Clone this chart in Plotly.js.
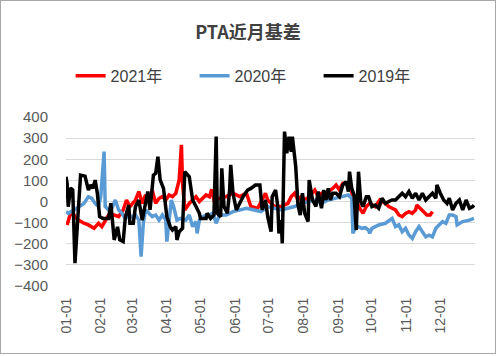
<!DOCTYPE html>
<html>
<head>
<meta charset="utf-8">
<script src="https://cdn.plot.ly/plotly-3.0.1.min.js"></script>
<style>
html,body{margin:0;padding:0;background:#fff;}
#chart{width:494px;height:352px;border:1px solid #a6a6a6;}
</style>
</head>
<body>
<div id="chart"></div>
<script>
// ---- data ----
var seriesNames = ["2021年", "2020年", "2019年"];
var seriesColors = ["#ff0000", "#5b9bd5", "#000000"];

var dates2021 = ["01-02","01-05","01-08","01-12","01-17","01-21","01-26","01-30","02-02","02-05","02-08","02-13","02-17","02-21","02-24","02-27","03-04","03-07","03-10","03-13","03-16","03-19","03-22","03-25","03-28","03-31","04-03","04-06","04-09","04-12","04-14","04-15","04-17","04-21","04-24","04-27","04-30","05-03","05-06","05-09","05-11","05-13","05-18","05-24","05-30","06-05","06-11","06-15","06-21","06-27","06-28","06-30","07-06","07-12","07-18","07-21","07-24","07-27","07-30","08-03","08-08","08-11","08-14","08-17","08-20","08-23","08-27","08-30","09-02","09-05","09-08","09-11","09-14","09-17","09-20","09-23","09-26","09-29","10-04","10-08","10-13","10-16","10-19","10-22","10-25","10-28","10-31","11-03","11-06","11-09","11-10","11-13","11-16","11-19","11-22","11-24"];
var vals2021 = [-111,-56,-64,-88,-103,-111,-127,-103,-119,-88,-64,-64,-72,-40,7,-24,7,47,-9,31,7,54,-9,15,23,7,31,23,39,102,268,86,-40,-9,7,23,0,15,31,23,58,7,15,23,39,23,39,-24,-32,23,39,7,-24,-24,-9,23,39,7,23,7,39,54,23,39,31,47,62,78,54,86,86,78,23,7,-32,-56,-24,-9,-24,7,-9,-24,-32,-40,-64,-72,-56,-48,-56,-40,-17,-32,-48,-64,-64,-48];

var dates2020 = ["01-01","01-03","01-08","01-12","01-17","01-21","01-24","01-27","01-30","02-01","02-04","02-05","02-08","02-11","02-14","02-17","02-20","02-23","02-26","03-01","03-04","03-07","03-09","03-11","03-13","03-16","03-19","03-22","03-25","03-28","03-31","04-01","04-03","04-05","04-07","04-10","04-13","04-18","04-21","04-24","04-27","04-28","04-30","05-03","05-06","05-09","05-12","05-15","05-18","05-24","05-30","06-05","06-11","06-18","06-24","06-30","07-06","07-12","07-18","07-24","07-30","08-05","08-11","08-17","08-23","08-29","09-04","09-10","09-13","09-14","09-16","09-19","09-22","09-25","09-28","09-29","10-01","10-07","10-13","10-19","10-22","10-25","10-28","10-31","11-03","11-06","11-09","11-12","11-15","11-18","11-21","11-24","11-27","11-30","12-03","12-06","12-09","12-12","12-15","12-16","12-21","12-27","12-31"];
var vals2020 = [-48,-56,-40,-24,-9,23,15,-9,-24,23,236,-24,-40,-32,7,-40,-56,-80,-64,-72,-64,-88,-261,-103,-40,-56,-72,-64,-88,-64,-88,-190,-103,7,-24,-88,-80,-88,-64,-119,-95,-151,-88,-72,-64,-64,-56,-103,-64,-64,-48,-40,-32,-40,-48,-24,-32,-40,-32,-24,-9,0,7,-9,7,15,23,31,15,-151,-127,-119,-127,-124,-135,-151,-127,-111,-103,-80,-119,-111,-143,-127,-159,-175,-143,-119,-143,-167,-159,-167,-127,-111,-95,-103,-64,-64,-72,-111,-95,-88,-80];

var dates2019 = ["01-01","01-02","01-03","01-05","01-07","01-09","01-12","01-14","01-18","01-21","01-23","01-25","01-27","01-29","01-31","02-03","02-08","02-10","02-13","02-16","02-18","02-21","02-23","02-26","02-27","03-02","03-04","03-07","03-10","03-13","03-15","03-17","03-20","03-22","03-24","03-26","03-29","04-01","04-04","04-06","04-09","04-10","04-12","04-15","04-17","04-21","04-24","04-27","04-30","05-01","05-06","05-07","05-10","05-13","05-15","05-16","05-19","05-20","05-22","05-25","05-27","05-28","05-30","06-02","06-05","06-08","06-12","06-15","06-19","06-23","06-25","06-28","06-30","07-03","07-04","07-07","07-09","07-10","07-12","07-13","07-15","07-17","07-19","07-21","07-22","07-24","07-25","07-27","07-29","07-31","08-02","08-05","08-06","08-09","08-12","08-14","08-17","08-19","08-21","08-23","08-25","08-27","08-30","09-02","09-05","09-08","09-10","09-11","09-13","09-15","09-17","09-19","09-21","09-23","09-26","09-28","10-01","10-04","10-07","10-10","10-13","10-16","10-19","10-22","10-25","10-28","10-31","11-03","11-06","11-09","11-12","11-15","11-18","11-21","11-24","11-27","11-28","12-01","12-04","12-07","12-09","12-12","12-15","12-18","12-21","12-24","12-27","12-30","12-31"];
var vals2019 = [117,85,-25,64,55,-292,-40,125,120,54,78,62,101,38,-72,-80,-80,-8,-182,-120,-182,-190,-72,-17,-103,-103,-24,7,-88,-8,47,-40,125,133,212,102,62,-72,-119,-135,-119,-182,-143,-127,141,117,7,-24,-56,-80,-80,-56,-80,-64,307,-56,-72,157,-24,-56,54,173,39,-40,-9,23,54,62,78,78,-40,7,-72,-143,23,54,-24,-151,-88,-198,331,228,307,236,307,205,165,-17,-64,39,-56,-95,102,7,-24,47,-32,54,7,62,7,39,39,23,78,94,47,141,62,31,-135,141,0,-24,23,23,-24,-17,-32,15,-9,0,7,7,23,39,23,47,15,39,7,39,7,23,39,15,78,39,7,-9,15,-40,-9,7,-40,7,-32,-24,-17];

var yTicks = [-400,-300,-200,-100,0,100,200,300,400];
var monthTicks = ["01-01","02-01","03-01","04-01","05-01","06-01","07-01","08-01","09-01","10-01","11-01","12-01"];

// ---- build ----
var baseYear = "2021-";
function toDate(arr){ return arr.map(function(d){ return baseYear + d; }); }

var allDates = [dates2021, dates2020, dates2019];
var allVals = [vals2021, vals2020, vals2019];

var traces = seriesNames.map(function(name, i){
  return {
    type: "scatter", mode: "lines", name: name,
    x: toDate(allDates[i]), y: allVals[i],
    line: {color: seriesColors[i], width: 3.5, shape: "linear"},
    hoverinfo: "skip"
  };
});

var fontFam = "'Liberation Sans', Arial, 'Noto Sans CJK SC', sans-serif";

var layout = {
  width: 494, height: 352,
  margin: {l: 65, r: 20, t: 116, b: 67, pad: 0},
  paper_bgcolor: "#ffffff", plot_bgcolor: "#ffffff",
  showlegend: true,
  title: {
    text: "<b>PTA近月基差</b>",
    font: {family: "'Noto Sans CJK SC', 'Liberation Sans', sans-serif", size: 18, color: "#404040"},
    x: 0.5, xref: "container", xanchor: "center",
    y: 0.91, yref: "container", yanchor: "middle"
  },
  legend: {
    orientation: "h", x: 0.466, xanchor: "center", y: 1.243, yanchor: "middle",
    font: {family: fontFam, size: 16, color: "#404040"},
    entrywidth: 79, entrywidthmode: "pixels",
    traceorder: "normal", bgcolor: "rgba(0,0,0,0)"
  },
  xaxis: {
    type: "date",
    range: ["2021-01-01", "2021-12-31 23:00"],
    tickvals: toDate(monthTicks), ticktext: monthTicks,
    tickangle: -90,
    tickfont: {family: fontFam, size: 14, color: "#595959"},
    showgrid: false, zeroline: false, showline: false,
    ticks: "", ticklabelstandoff: 8, fixedrange: true
  },
  yaxis: {
    range: [-400, 400],
    tickvals: yTicks,
    tickfont: {family: fontFam, size: 15, color: "#595959"},
    showgrid: true, gridcolor: "#d9d9d9", gridwidth: 1,
    zeroline: false, showline: false, ticks: "",
    ticklabelstandoff: 17, fixedrange: true
  }
};

Plotly.newPlot("chart", traces, layout, {staticPlot: true, displayModeBar: false});
</script>
</body>
</html>
